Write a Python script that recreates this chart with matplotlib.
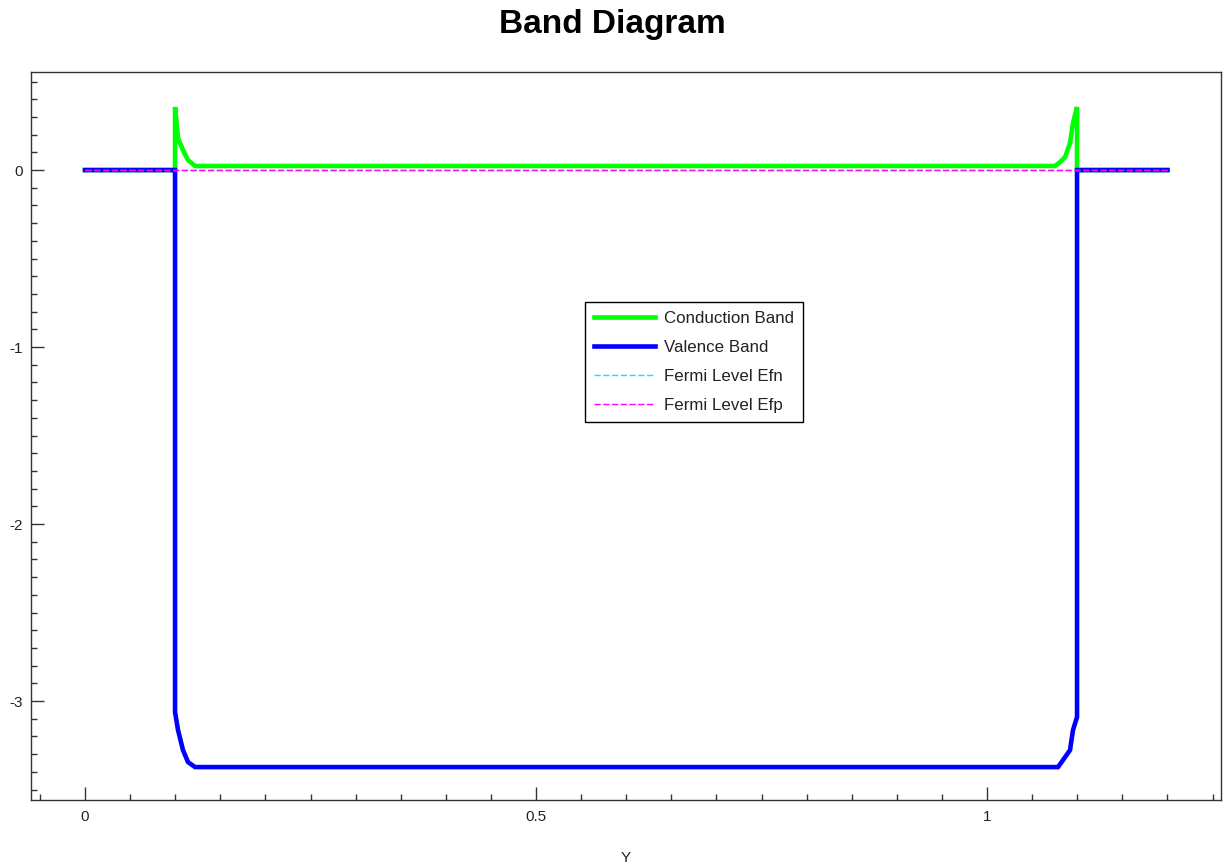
import matplotlib
matplotlib.use("Agg")
import matplotlib.pyplot as plt
from matplotlib.ticker import MultipleLocator, FixedLocator

plt.rcParams['font.family'] = ['Liberation Sans', 'DejaVu Sans']
plt.rcParams['axes.unicode_minus'] = False

# ---- data ----
y_cb = [0.0, 0.0998, 0.0998, 0.1031, 0.1086, 0.1142, 0.1220,
        1.0754, 1.0810, 1.0865, 1.0920, 1.0953, 1.0998, 1.0998, 1.2]
conduction_band = [0.0, 0.0, 0.356, 0.181, 0.113, 0.056, 0.023,
                   0.023, 0.045, 0.073, 0.153, 0.266, 0.356, 0.0, 0.0]

y_vb = [0.0, 0.0998, 0.0998, 0.1031, 0.1086, 0.1142, 0.1220,
        1.0787, 1.0843, 1.0920, 1.0953, 1.0998, 1.0998, 1.2]
valence_band = [0.0, 0.0, -3.062, -3.164, -3.277, -3.345, -3.373,
                -3.373, -3.333, -3.277, -3.164, -3.090, 0.0, 0.0]

y_fermi = [0.0, 1.2]
fermi_efn = [0.0, 0.0]
fermi_efp = [0.0, 0.0]

labels = ['Conduction Band', 'Valence Band', 'Fermi Level Efn', 'Fermi Level Efp']
x_ticks = [0, 0.5, 1]
x_ticklabels = ['0', '0.5', '1']
y_ticks = [0, -1, -2, -3]
y_ticklabels = ['0', '-1', '-2', '-3']

# ---- figure ----
fig = plt.figure(figsize=(12.25, 8.66), dpi=100)
ax = fig.add_axes([31/1225, 1-800/866, (1221-31)/1225, (800-72)/866])

ax.plot(y_cb, conduction_band, color='#00ff00', lw=3.3, label=labels[0],
        solid_joinstyle='miter')
ax.plot(y_vb, valence_band, color='#0000ff', lw=3.3, label=labels[1],
        solid_joinstyle='miter')
ax.plot(y_fermi, fermi_efn, color='#00e8ff', lw=1.0, dashes=(4.5, 1.8), label=labels[2])
ax.plot(y_fermi, fermi_efp, color='#ff00ff', lw=1.0, dashes=(4.5, 1.8), label=labels[3])

ax.set_xlim(-0.0599, 1.2594)
ax.set_ylim(-3.559, 0.554)

ax.xaxis.set_major_locator(FixedLocator(x_ticks))
ax.set_xticklabels(x_ticklabels)
ax.yaxis.set_major_locator(FixedLocator(y_ticks))
ax.set_yticklabels(y_ticklabels)
ax.xaxis.set_minor_locator(MultipleLocator(0.05))
ax.yaxis.set_minor_locator(MultipleLocator(0.1))

tick_col = '#333333'
ax.tick_params(which='both', direction='in', top=False, right=False,
               color=tick_col, width=1.0, labelsize=11, labelcolor='#222222')
ax.tick_params(which='major', length=9.5)
ax.tick_params(which='minor', length=4)
ax.tick_params(axis='y', which='major', pad=6)
ax.tick_params(axis='x', which='major', pad=7)
for sp in ax.spines.values():
    sp.set_color('#333333')
    sp.set_linewidth(1.0)

ax.set_xlabel('Y', fontsize=11, labelpad=20, color='#222222')
fig.suptitle('Band Diagram', fontsize=24, fontweight='bold', y=0.99)

leg = ax.legend(loc='center', bbox_to_anchor=(0.557, 0.602), fontsize=12.2,
                frameon=True, fancybox=False, shadow=False, framealpha=1,
                edgecolor='black', handlelength=3.6, handletextpad=0.5,
                labelspacing=0.82, borderpad=0.55, borderaxespad=0)
leg.get_frame().set_linewidth(1.0)
for t in leg.get_texts():
    t.set_color('#222222')

fig.savefig('out.png', dpi=100)
